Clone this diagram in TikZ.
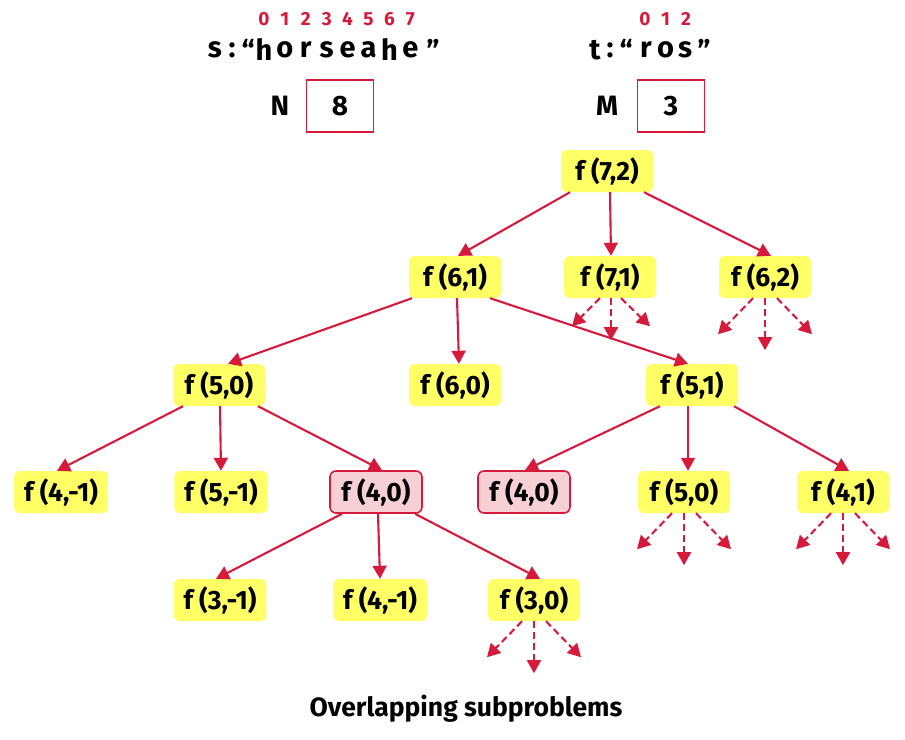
\documentclass[tikz,border=0pt]{standalone}
\usepackage{fontspec}
\setmainfont{Fira Sans}
\usetikzlibrary{arrows.meta,calc}
\definecolor{cred}{HTML}{D61A3C}
\definecolor{cyel}{HTML}{FFFF66}
\definecolor{cpink}{HTML}{F7D0D6}
\tikzset{
  fbox/.style={fill=cyel, draw=none, rounded corners=6pt, minimum height=42pt, minimum width=92pt, inner xsep=10pt, font=\fontsize{26.5}{30}\selectfont\bfseries},
  pbox/.style={fbox, fill=cpink, draw=cred, line width=1.6pt},
  arr/.style={draw=cred, line width=2.1pt, -{Triangle[length=13pt,width=14pt]}},
  darr/.style={arr, dash pattern=on 7pt off 4pt},
  digit/.style={text=cred, font=\fontsize{19}{22}\selectfont\bfseries, inner sep=0pt},
  letter/.style={font=\fontsize{29}{32}\selectfont\bfseries, inner sep=0pt},
  numbox/.style={draw=cred, line width=1.8pt, minimum width=67pt, minimum height=52pt, font=\fontsize{28}{32}\selectfont\bfseries},
}
\begin{document}
\begin{tikzpicture}[x=1pt,y=-1pt]
\useasboundingbox (0,0) rectangle (905,739);
% header s
\foreach \d [count=\i from 0] in {0,...,7} {
  \node[digit] (sd\i) at (264+20.9*\i,19) {\d};
}
\node[letter] (sS) at (215,50) {s};
\node[letter] (sC) at (232,50) {:};
\node[letter] (sQ) at (248,50) {“};
\foreach \c [count=\i from 0] in {h,o,r,s,e,a,h,e} {
  \node[letter] (sl\i) at (264+20.9*\i,50) {\c};
}
\node[letter] (sQe) at (433,50) {”};
\node[letter,font=\fontsize{28}{32}\selectfont\bfseries] (Nlab) at (280,106) {N};
\node[numbox] (Nbox) at (340,106) {8};
% header t
\foreach \d [count=\i from 0] in {0,1,2} {
  \node[digit] (td\i) at (645+20.5*\i,19) {\d};
}
\node[letter] (tT) at (595,50) {t};
\node[letter] (tC) at (610,50) {:};
\node[letter] (tQ) at (626,50) {“};
\foreach \c [count=\i from 0] in {r,o,s} {
  \node[letter] (tl\i) at (646+19.5*\i,50) {\c};
}
\node[letter] (tQe) at (704,50) {”};
\node[letter,font=\fontsize{28}{32}\selectfont\bfseries] (Mlab) at (607,106) {M};
\node[numbox] (Mbox) at (671,106) {3};
% tree nodes
\node[fbox] (f72) at (607,171) {f (7,2)};
\node[fbox] (f61) at (455,277) {f (6,1)};
\node[fbox] (f71) at (610,277) {f (7,1)};
\node[fbox] (f62) at (765,277) {f (6,2)};
\node[fbox] (f50a) at (219,385) {f (5,0)};
\node[fbox] (f60) at (455,385) {f (6,0)};
\node[fbox] (f51) at (692,385) {f (5,1)};
\node[fbox] (f4m1a) at (61,492) {f (4,-1)};
\node[fbox] (f5m1) at (221,492) {f (5,-1)};
\node[pbox] (f40a) at (376,492) {f (4,0)};
\node[pbox] (f40b) at (524,492) {f (4,0)};
\node[fbox] (f50b) at (684,492) {f (5,0)};
\node[fbox] (f41) at (843,492) {f (4,1)};
\node[fbox] (f3m1) at (220,600) {f (3,-1)};
\node[fbox] (f4m1b) at (380,600) {f (4,-1)};
\node[fbox] (f30) at (534,600) {f (3,0)};
% solid arrows
\draw[arr] ([xshift=-37]f72.south) -- ([xshift=3]f61.north);
\draw[arr] ([xshift=3]f72.south) -- ([xshift=1]f71.north);
\draw[arr] ([xshift=37]f72.south) -- ([xshift=6]f62.north);
\draw[arr] ([xshift=-43]f61.south) -- ([xshift=9]f50a.north);
\draw[arr] ([xshift=2]f61.south) -- ([xshift=4]f60.north);
\draw[arr] ([xshift=35]f61.south) -- ([xshift=-4]f51.north);
\draw[arr] ([xshift=-36]f50a.south) -- ([xshift=-4]f4m1a.north);
\draw[arr] ([xshift=1]f50a.south) -- ([xshift=0]f5m1.north);
\draw[arr] ([xshift=39]f50a.south) -- ([xshift=6]f40a.north);
\draw[arr] ([xshift=-32]f51.south) -- ([xshift=1]f40b.north);
\draw[arr] ([xshift=-4]f51.south) -- ([xshift=4]f50b.north);
\draw[arr] ([xshift=42]f51.south) -- ([xshift=6]f41.north);
\draw[arr] ([xshift=-34]f40a.south) -- ([xshift=-4]f3m1.north);
\draw[arr] ([xshift=2]f40a.south) -- ([xshift=0]f4m1b.north);
\draw[arr] ([xshift=39]f40a.south) -- ([xshift=6]f30.north);
% dashed arrows
\coordinate (d71l) at ($(f71.south)+(-38,28)$);
\coordinate (d71m) at ($(f71.south)+(1,42)$);
\coordinate (d71r) at ($(f71.south)+(40,28)$);
\draw[darr] ([xshift=-10]f71.south) -- (d71l);
\draw[darr] ([xshift=1]f71.south) -- (d71m);
\draw[darr] ([xshift=11]f71.south) -- (d71r);
\foreach \n in {f62,f50b,f41,f30} {
  \coordinate (\n dl) at ($(\n.south)+(-47,36)$);
  \coordinate (\n dm) at ($(\n.south)+(0,52)$);
  \coordinate (\n dr) at ($(\n.south)+(47,36)$);
  \draw[darr] ([xshift=-12]\n.south) -- (\n dl);
  \draw[darr] (\n.south) -- (\n dm);
  \draw[darr] ([xshift=12]\n.south) -- (\n dr);
}
\node[font=\fontsize{26.5}{30}\selectfont\bfseries] (title) at (466,709) {Overlapping subproblems};
\end{tikzpicture}
\end{document}
